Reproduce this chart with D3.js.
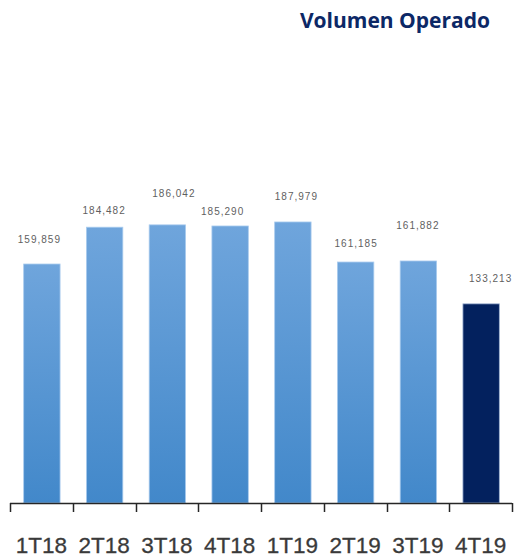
<!DOCTYPE html>
<html>
<head>
<meta charset="utf-8">
<script src="https://cdn.jsdelivr.net/npm/d3@7"></script>
<style>
  html, body { margin: 0; padding: 0; background: #ffffff; }
  svg { display: block; }
</style>
</head>
<body>
<script>
// Quarterly traded volume
const quarters = ["1T18", "2T18", "3T18", "4T18", "1T19", "2T19", "3T19", "4T19"];
const volumes = [159859, 184482, 186042, 185290, 187979, 161185, 161882, 133213];
const valueLabels = ["159,859", "184,482", "186,042", "185,290", "187,979", "161,185", "161,882", "133,213"];
const yDomain = [0, 200000];

// Hand placement of each value label relative to its bar (dx, lift above bar top)
const labelDx = [-2, 0, 7, -7, 4, 1, 0, 10];
const labelLift = [21, 13, 28, 11, 22, 15, 32, 22];

const W = 517, H = 559;
const plot = { left: 10, right: 512, top: 204, bottom: 503 };

const svg = d3.select("body").append("svg")
  .attr("width", W).attr("height", H);

const defs = svg.append("defs");
const grad = defs.append("linearGradient")
  .attr("id", "barFill").attr("x1", 0).attr("y1", 0).attr("x2", 0).attr("y2", 1);
grad.append("stop").attr("offset", "0%").attr("stop-color", "#6fa5dc");
grad.append("stop").attr("offset", "100%").attr("stop-color", "#4288ca");

// Title
svg.append("text")
  .attr("x", 490).attr("y", 28)
  .attr("text-anchor", "end")
  .attr("font-family", "'Open Sans', sans-serif")
  .attr("font-weight", 700)
  .attr("font-size", 21)
  .attr("fill", "#0c2866")
  .text("Volumen Operado");

const x = d3.scaleBand()
  .domain(quarters)
  .range([plot.left, plot.right])
  .paddingInner(0).paddingOuter(0);

const y = d3.scaleLinear()
  .domain(yDomain)
  .range([plot.bottom, plot.top]);

const barW = x.step() * 0.58;

// Bars
svg.append("g").selectAll("rect")
  .data(quarters)
  .join("rect")
  .attr("x", d => x(d) + (x.step() - barW) / 2 + 0.5)
  .attr("y", (d, i) => y(volumes[i]))
  .attr("width", barW)
  .attr("height", (d, i) => y(0) - y(volumes[i]))
  .attr("fill", (d, i) => i === quarters.length - 1 ? "#03215e" : "url(#barFill)")
  .attr("stroke", (d, i) => i === quarters.length - 1 ? "#9fb3d3" : "#a9cbee")
  .attr("stroke-width", 0.8);

// Value labels
svg.append("g").selectAll("text")
  .data(quarters)
  .join("text")
  .attr("x", (d, i) => x(d) + x.step() / 2 + labelDx[i])
  .attr("y", (d, i) => y(volumes[i]) - labelLift[i])
  .attr("text-anchor", "middle")
  .attr("font-family", "'Liberation Sans', Arial, sans-serif")
  .attr("font-size", 10)
  .attr("letter-spacing", 1)
  .attr("fill", "#5f5f5f")
  .text((d, i) => valueLabels[i]);

// Category axis: labels centred in each slot
const axis = svg.append("g")
  .attr("transform", `translate(0,${plot.bottom})`)
  .call(d3.axisBottom(x).tickSize(0).tickPadding(34));
axis.select(".domain").remove();
axis.selectAll("text")
  .attr("font-family", "'Liberation Sans', Arial, sans-serif")
  .attr("font-size", 22.5)
  .attr("fill", "#3a3a3a")
  .attr("stroke", "#3a3a3a")
  .attr("stroke-width", 0.3);

// Axis baseline and slot boundary ticks
const boundaries = quarters.map(q => x(q)).concat([x.range()[1]]);
const tickG = svg.append("g").attr("stroke", "#262626");
tickG.append("line")
  .attr("x1", plot.left).attr("x2", plot.right)
  .attr("y1", plot.bottom + 0.5).attr("y2", plot.bottom + 0.5)
  .attr("stroke-width", 1.5);
tickG.selectAll("line.tick")
  .data(boundaries)
  .join("line")
  .attr("class", "tick")
  .attr("x1", d => Math.round(d) + 0.5).attr("x2", d => Math.round(d) + 0.5)
  .attr("y1", plot.bottom).attr("y2", plot.bottom + 9)
  .attr("stroke-width", 1.5);
</script>
</body>
</html>
